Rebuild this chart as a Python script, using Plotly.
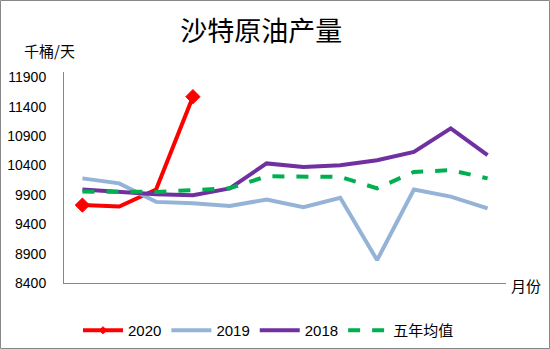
import plotly.graph_objects as go

months = list(range(1, 13))
y2020 = [9725, 9700, 9990, 11570]
y2019 = [10180, 10095, 9780, 9755, 9710, 9820, 9690, 9850, 8790, 9990, 9870, 9670]
y2018 = [9990, 9950, 9910, 9895, 10010, 10435, 10375, 10405, 10490, 10630, 11030, 10575]
y5avg = [9955, 9950, 9950, 9980, 10010, 10215, 10205, 10205, 10010, 10290, 10320, 10180]
yticks = [8400, 8900, 9400, 9900, 10400, 10900, 11400, 11900]
names = ["2020", "2019", "2018", "五年均值"]

font_lat = "Liberation Sans, Arial, sans-serif"
font_cjk = "Noto Sans CJK SC, sans-serif"
font_mix = "Liberation Sans, Noto Sans CJK SC, sans-serif"

fig = go.Figure()
fig.add_trace(go.Scatter(x=months[:len(y2020)], y=y2020, name=names[0], mode="lines+markers",
                         line=dict(color="#FF0000", width=4),
                         marker=dict(symbol="diamond", size=[11, 0, 0, 11], color="#FF0000",
                                     opacity=1, line=dict(color="#FF0000", width=1))))
fig.add_trace(go.Scatter(x=months, y=y2019, name=names[1], mode="lines",
                         line=dict(color="#95B3D7", width=4)))
fig.add_trace(go.Scatter(x=months, y=y2018, name=names[2], mode="lines",
                         line=dict(color="#7030A0", width=4)))
fig.add_trace(go.Scatter(x=months, y=y5avg, name=names[3], mode="lines",
                         line=dict(color="#00B050", width=4, dash="12px,12px")))

L, R, T, B = 64, 44, 72, 66
W, H = 550, 349
pw, ph = W - L - R, H - T - B

fig.update_layout(
    width=W, height=H,
    margin=dict(l=L, r=R, t=T, b=B, autoexpand=False),
    paper_bgcolor="white", plot_bgcolor="white",
    font=dict(family=font_lat, size=13, color="#000000"),
    showlegend=True,
    legend=dict(orientation="h", x=(78 - L) / pw, xanchor="left", y=-(314 - T - ph) / ph, yanchor="top",
                font=dict(size=15, family=font_mix, color="#000000"),
                itemwidth=40, bgcolor="rgba(0,0,0,0)"),
    title=dict(text="沙特原油产量", x=0.475, xanchor="center", y=1 - 32 / H, yanchor="middle",
               font=dict(family=font_cjk, size=27, color="#000000")),
    xaxis=dict(range=[0.5, 12.5], showticklabels=False, showgrid=False, zeroline=False,
               showline=True, linecolor="#868686", linewidth=1, ticks=""),
    yaxis=dict(range=[8400, 11990], tickvals=yticks, ticktext=[str(v) for v in yticks],
               showgrid=False, zeroline=False, showline=True, linecolor="#868686",
               linewidth=1, ticks="", ticklabelstandoff=14,
               tickfont=dict(size=14, family=font_lat, color="#000000")),
    shapes=[dict(type="rect", xref="paper", yref="paper",
                 x0=(0.5 - L) / pw, x1=(W - 0.5 - L) / pw,
                 y0=(-(B - 0.5)) / ph, y1=1 + (T - 0.5) / ph,
                 line=dict(color="#888888", width=1), fillcolor="rgba(0,0,0,0)", layer="below")],
    annotations=[
        dict(text="千桶/天", xref="paper", yref="paper", x=(22 - L) / pw, y=1 + (T - 50) / ph,
             xanchor="left", yanchor="middle", showarrow=False,
             font=dict(family=font_cjk, size=15, color="#000000")),
        dict(text="月份", xref="paper", yref="paper", x=(509 - L) / pw, y=-(285 - T - ph) / ph,
             xanchor="left", yanchor="middle", showarrow=False,
             font=dict(family=font_cjk, size=15, color="#000000")),
    ],
)

fig.write_html("out.html")
